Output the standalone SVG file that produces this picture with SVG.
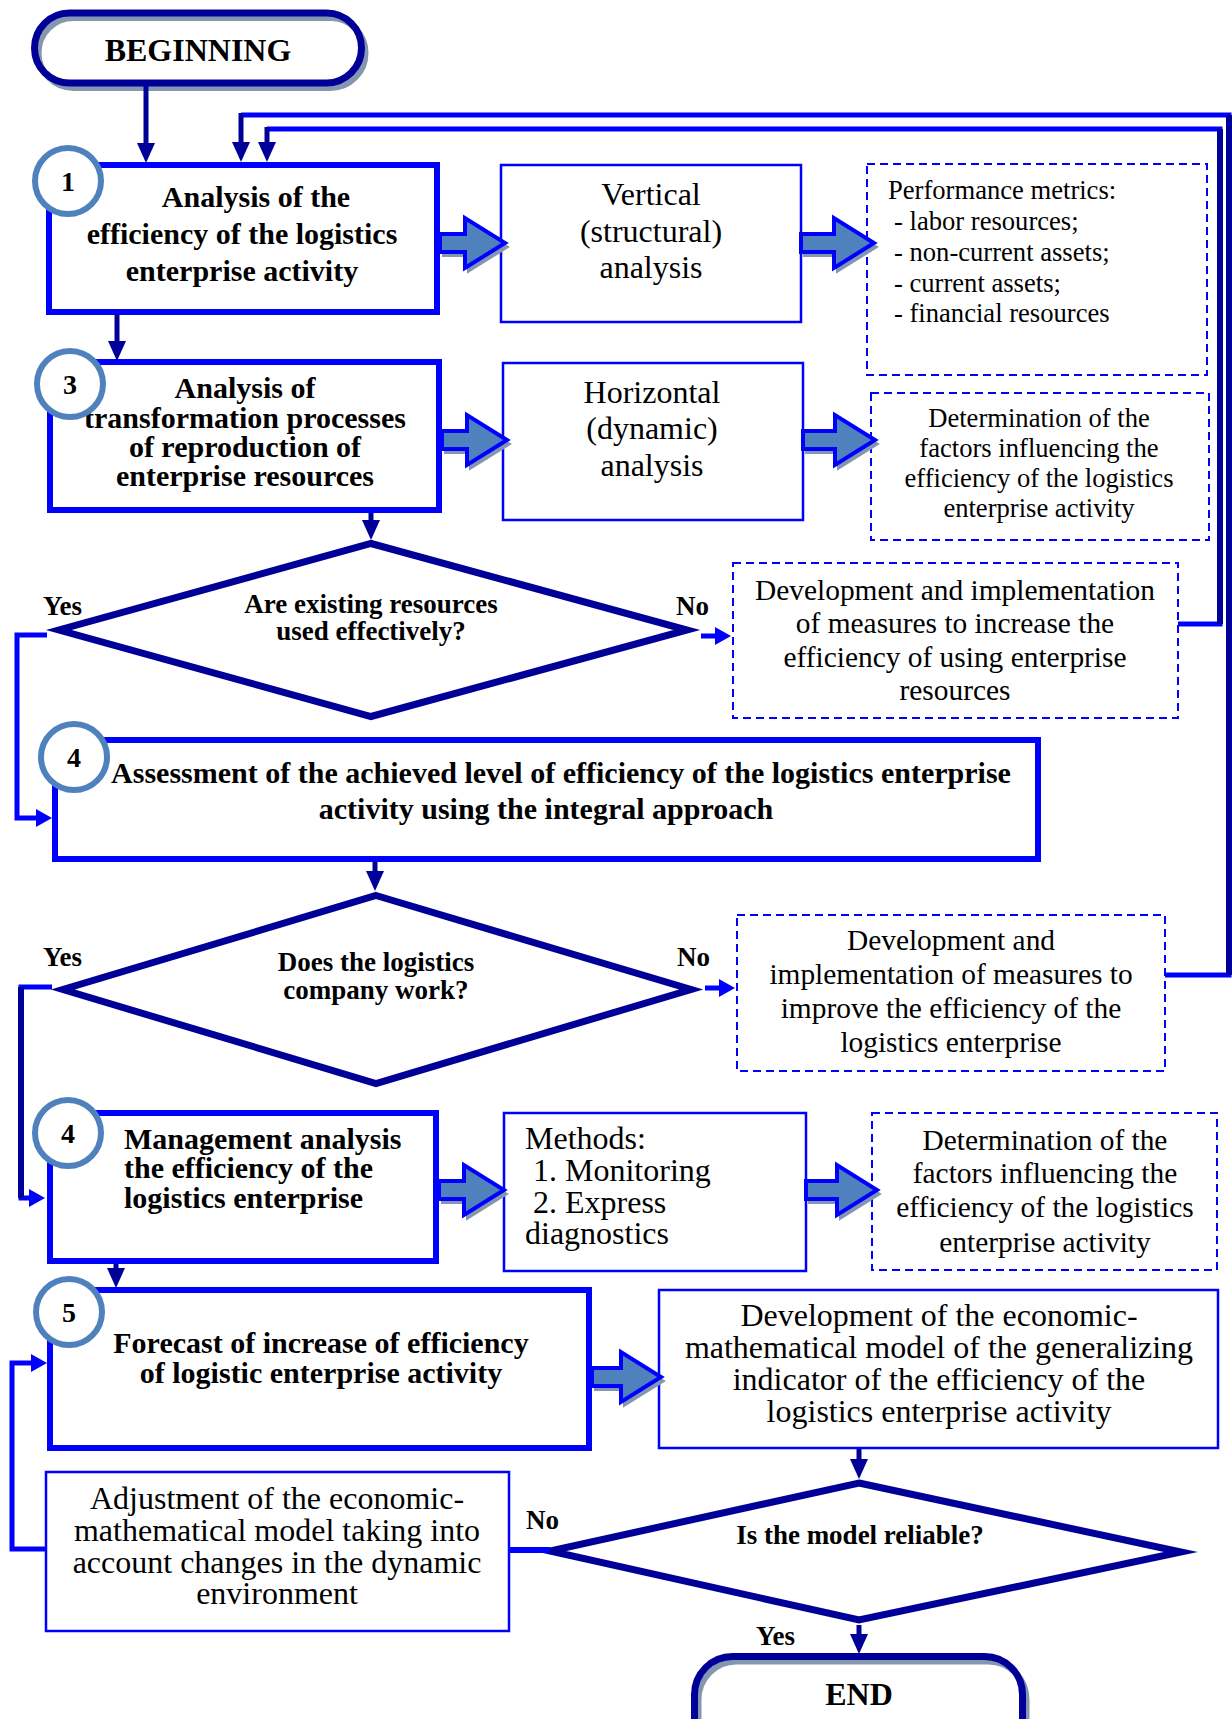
<svg xmlns="http://www.w3.org/2000/svg" width="1232" height="1719" viewBox="0 0 1232 1719">
<style>
text{font-family:"Liberation Serif","Times New Roman",serif;fill:#000}
.b{font-weight:bold}
.c{text-anchor:middle}
.f30{font-size:30px}
.f26{font-size:26.6px}
.f27{font-size:27px}
.f29{font-size:29.4px}
.f31{font-size:32px}
.f32{font-size:32px}
.thick{fill:#fff;stroke:#0000FF;stroke-width:6}
.thin{fill:#fff;stroke:#0000FF;stroke-width:2.5}
.dash{fill:#fff;stroke:#0000FF;stroke-width:2;stroke-dasharray:8 5}
.dia{fill:#fff;stroke:#000099;stroke-width:7;stroke-linejoin:miter;stroke-miterlimit:10}
.num{fill:#fff;stroke:#4F81BD;stroke-width:6}
.term{fill:none;stroke:#000099;stroke-width:7}
.termsh{fill:none;stroke:#8496B0;stroke-width:6}
.nv{fill:none;stroke:#000099;stroke-width:5}
.nvw{fill:none;stroke:#000099;stroke-width:6}
.bl{fill:none;stroke:#0000FF;stroke-width:5}
.ba{fill:#4F81BD;stroke:#0000FF;stroke-width:4}
.sh{fill:#8496B0;stroke:#8496B0;stroke-width:2}
</style>
<defs>
<marker id="mN" viewBox="0 0 20 18" refX="10" refY="9" markerWidth="20" markerHeight="18" markerUnits="userSpaceOnUse" orient="auto"><path d="M0,0L20,9L0,18Z" fill="#000099"/></marker>
<marker id="mB" viewBox="0 0 16 18" refX="8" refY="9" markerWidth="16" markerHeight="18" markerUnits="userSpaceOnUse" orient="auto"><path d="M0,0L16,9L0,18Z" fill="#0000FF"/></marker>
<path id="a1" d="M440,234H465V218L505,243L465,268V252H440Z"/>
<path id="a2" d="M801,234H834V218L874,243L834,268V252H801Z"/>
<path id="a3" d="M442,431H467V415L507,440L467,465V449H442Z"/>
<path id="a4" d="M803,431H835V415L875,440L835,465V449H803Z"/>
<path id="a5" d="M439,1181H464V1165L504,1190L464,1215V1199H439Z"/>
<path id="a6" d="M806,1181H837V1165L877,1190L837,1215V1199H806Z"/>
<path id="a7" d="M592,1368H621V1352L661,1377L621,1402V1386H592Z"/>
</defs>
<rect width="1232" height="1719" fill="#fff"/>

<g id="begin">
<rect x="34.5" y="13" width="327" height="70" rx="35" fill="#fff"/>
<rect class="termsh" x="38.5" y="18" width="327" height="70" rx="35"/>
<rect class="term" x="34.5" y="13" width="327" height="70" rx="35"/>
<text class="b c f32" x="198" y="61">BEGINNING</text>
</g>

<g id="n1">
<rect class="thick" x="49" y="165" width="388" height="147"/>
<text class="b c f30" x="256" y="207">Analysis of the</text>
<text class="b c f30" x="242" y="244">efficiency of the logistics</text>
<text class="b c f30" x="242" y="281">enterprise activity</text>
<circle class="num" cx="68" cy="181" r="33"/>
<text class="b c" style="font-size:28px" x="68" y="191">1</text>
</g>

<g id="vertical">
<rect class="thin" x="501" y="165" width="300" height="157"/>
<text class="c f31" x="651" y="205">Vertical</text>
<text class="c f31" x="651" y="242">(structural)</text>
<text class="c f31" x="651" y="278">analysis</text>
</g>

<g id="metrics">
<rect class="dash" x="867" y="164" width="340" height="211"/>
<text class="f26" x="888" y="199">Performance metrics:</text>
<text class="f26" x="894" y="230">- labor resources;</text>
<text class="f26" x="894" y="261">- non-current assets;</text>
<text class="f26" x="894" y="292">- current assets;</text>
<text class="f26" x="894" y="322">- financial resources</text>
</g>

<g id="n3">
<rect class="thick" x="50" y="362" width="389" height="148"/>
<text class="b c f30" x="245" y="398">Analysis of</text>
<text class="b c f30" x="245" y="428">transformation processes</text>
<text class="b c f30" x="245" y="457">of reproduction of</text>
<text class="b c f30" x="245" y="486">enterprise resources</text>
<circle class="num" cx="70" cy="384" r="33"/>
<text class="b c" style="font-size:28px" x="70" y="394">3</text>
</g>

<g id="horizontal">
<rect class="thin" x="503" y="363" width="300" height="157"/>
<text class="c f31" x="652" y="403">Horizontal</text>
<text class="c f31" x="652" y="439">(dynamic)</text>
<text class="c f31" x="652" y="476">analysis</text>
</g>

<g id="factors1">
<rect class="dash" x="871" y="393" width="338" height="147"/>
<text class="c f26" x="1039" y="427">Determination of the</text>
<text class="c f26" x="1039" y="457">factors influencing the</text>
<text class="c f26" x="1039" y="487">efficiency of the logistics</text>
<text class="c f26" x="1039" y="517">enterprise activity</text>
</g>

<g id="q1">
<path class="dia" d="M371,543.5L687,630L371,716.5L59,630Z"/>
<text class="b c f27" x="371" y="613">Are existing resources</text>
<text class="b c f27" x="371" y="640">used effectively?</text>
</g>

<g id="measures1">
<rect class="dash" x="733" y="563" width="445" height="155"/>
<text class="c f29" x="955" y="600">Development and implementation</text>
<text class="c f29" x="955" y="633">of measures to increase the</text>
<text class="c f29" x="955" y="667">efficiency of using enterprise</text>
<text class="c f29" x="955" y="700">resources</text>
</g>

<g id="n4">
<rect class="thick" x="55" y="740" width="983" height="119"/>
<text class="b c f30" x="561" y="783">Assessment of the achieved level of efficiency of the logistics enterprise</text>
<text class="b c f30" x="546" y="819">activity using the integral approach</text>
<circle class="num" cx="74" cy="757" r="33"/>
<text class="b c" style="font-size:28px" x="74" y="767">4</text>
</g>

<g id="q2">
<path class="dia" d="M376,895.5L691,989.5L376,1083.5L63,989.5Z"/>
<text class="b c f27" x="376" y="971">Does the logistics</text>
<text class="b c f27" x="376" y="999">company work?</text>
</g>

<g id="measures2">
<rect class="dash" x="737" y="915" width="428" height="156"/>
<text class="c f29" x="951" y="950">Development and</text>
<text class="c f29" x="951" y="984">implementation of measures to</text>
<text class="c f29" x="951" y="1018">improve the efficiency of the</text>
<text class="c f29" x="951" y="1052">logistics enterprise</text>
</g>

<g id="n4b">
<rect class="thick" x="50" y="1113" width="386" height="148"/>
<text class="b f30" x="124" y="1149">Management analysis</text>
<text class="b f30" x="124" y="1178">the efficiency of the</text>
<text class="b f30" x="124" y="1208">logistics enterprise</text>
<circle class="num" cx="68" cy="1133" r="33"/>
<text class="b c" style="font-size:28px" x="68" y="1143">4</text>
</g>

<g id="methods">
<rect class="thin" x="504" y="1113" width="302" height="158"/>
<text class="f31" x="525" y="1149">Methods:</text>
<text class="f31" x="533" y="1181">1. Monitoring</text>
<text class="f31" x="533" y="1213">2. Express</text>
<text class="f31" x="525" y="1244">diagnostics</text>
</g>

<g id="factors2">
<rect class="dash" x="872" y="1113" width="345" height="157"/>
<text class="c f29" x="1045" y="1150">Determination of the</text>
<text class="c f29" x="1045" y="1183">factors influencing the</text>
<text class="c f29" x="1045" y="1217">efficiency of the logistics</text>
<text class="c f29" x="1045" y="1252">enterprise activity</text>
</g>

<g id="n5">
<rect class="thick" x="50" y="1290" width="539" height="158"/>
<text class="b c f30" x="321" y="1353">Forecast of increase of efficiency</text>
<text class="b c f30" x="321" y="1383">of logistic enterprise activity</text>
<circle class="num" cx="69" cy="1312" r="33"/>
<text class="b c" style="font-size:28px" x="69" y="1322">5</text>
</g>

<g id="model">
<rect class="thin" x="659" y="1290" width="559" height="158"/>
<text class="c f31" x="939" y="1326">Development of the economic-</text>
<text class="c f31" x="939" y="1358">mathematical model of the generalizing</text>
<text class="c f31" x="939" y="1390">indicator of the efficiency of the</text>
<text class="c f31" x="939" y="1422">logistics enterprise activity</text>
</g>

<g id="adjust">
<rect class="thin" x="46" y="1472" width="463" height="159"/>
<text class="c f31" x="277" y="1509">Adjustment of the economic-</text>
<text class="c f31" x="277" y="1541">mathematical model taking into</text>
<text class="c f31" x="277" y="1573">account changes in the dynamic</text>
<text class="c f31" x="277" y="1604">environment</text>
</g>

<g id="q3">
<path class="dia" d="M859,1483L1181,1552L859,1620L550,1551Z"/>
<text class="b c f27" x="860" y="1544">Is the model reliable?</text>
</g>

<g id="end">
<rect x="694.5" y="1656.5" width="328" height="110" rx="38" fill="#fff"/>
<rect class="termsh" x="698.5" y="1661.5" width="328" height="110" rx="38"/>
<rect class="term" x="694.5" y="1656.5" width="328" height="110" rx="38"/>
<text class="b c f32" x="859" y="1705">END</text>
</g>

<g id="connectors">
<path class="nv" d="M146,86V153" marker-end="url(#mN)"/>
<path class="nv" d="M117,314V351" marker-end="url(#mN)"/>
<path class="nv" d="M371,513V530" marker-end="url(#mN)"/>
<path class="nv" d="M375,862V881" marker-end="url(#mN)"/>
<path class="nv" d="M116,1264V1278" marker-end="url(#mN)"/>
<path class="nv" d="M859,1449V1469" marker-end="url(#mN)"/>
<path class="nv" d="M859,1625V1644" marker-end="url(#mN)"/>

<path class="bl" d="M1178,624H1220V129H267"/>
<path class="nvw" d="M1220,129V624"/>
<path class="nv" d="M267,127V152" marker-end="url(#mN)"/>
<path class="bl" d="M1165,975H1229V115H241"/>
<path class="nvw" d="M1229,115V975"/>
<path class="nv" d="M241,113V152" marker-end="url(#mN)"/>

<path class="bl" d="M47,635H17V818H44" marker-end="url(#mB)"/>
<path class="bl" d="M701,636H723" marker-end="url(#mB)"/>
<path class="bl" d="M52,987H21V1198H37" marker-end="url(#mB)"/>
<path class="nvw" d="M21,987V1198"/>
<path class="bl" d="M705,988H727" marker-end="url(#mB)"/>
<path class="bl" style="stroke-width:6" d="M550,1550H509"/>
<path class="bl" d="M46,1549H12V1363H39" marker-end="url(#mB)"/>

<use href="#a1" class="sh" transform="translate(3,4)"/><use href="#a1" class="ba"/>
<use href="#a2" class="sh" transform="translate(3,4)"/><use href="#a2" class="ba"/>
<use href="#a3" class="sh" transform="translate(3,4)"/><use href="#a3" class="ba"/>
<use href="#a4" class="sh" transform="translate(3,4)"/><use href="#a4" class="ba"/>
<use href="#a5" class="sh" transform="translate(3,4)"/><use href="#a5" class="ba"/>
<use href="#a6" class="sh" transform="translate(3,4)"/><use href="#a6" class="ba"/>
<use href="#a7" class="sh" transform="translate(3,4)"/><use href="#a7" class="ba"/>

<text class="b f27" x="43" y="615">Yes</text>
<text class="b f27" x="676" y="615">No</text>
<text class="b f27" x="43" y="966">Yes</text>
<text class="b f27" x="677" y="966">No</text>
<text class="b f27" x="526" y="1529">No</text>
<text class="b f27" x="756" y="1645">Yes</text>
</g>
</svg>
